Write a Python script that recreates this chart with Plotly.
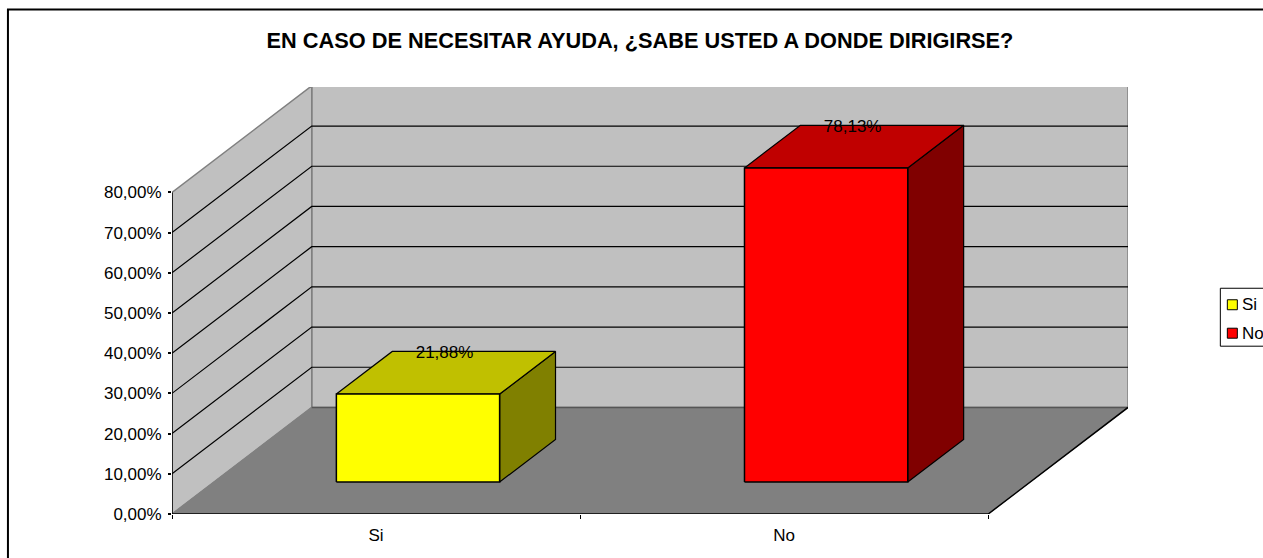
import plotly.graph_objects as go

title_text = "EN CASO DE NECESITAR AYUDA, ¿SABE USTED A DONDE DIRIGIRSE?"
categories = ["Si", "No"]
values = [21.88, 78.13]
value_labels = ["21,88%", "78,13%"]
front_colors = ["#FFFF00", "#FF0000"]
top_colors = ["#C0C000", "#C00000"]
side_colors = ["#808000", "#800000"]
y_ticks = [0, 10, 20, 30, 40, 50, 60, 70, 80]
y_tick_labels = ["0,00%", "10,00%", "20,00%", "30,00%", "40,00%", "50,00%", "60,00%", "70,00%", "80,00%"]

# oblique projection of the depth axis, in axis units
DX, DY = 0.3424, 26.5
FRONT, BACK = 0.30, 0.70
BAR_HALF = 0.2
WALL, FLOOR = "#C0C0C0", "#808080"

W, H = 1263, 558
L, R, T, B = 172, 1127.7, 86.5, 514
FONT = "Liberation Sans, Arial, sans-serif"

def px(v):
    return (v - L) / (R - L)

def py(v):
    return (B - v) / (B - T)

fig = go.Figure()

def poly(xs, ys, fill, line, lw=1):
    fig.add_trace(go.Scatter(x=xs + xs[:1], y=ys + ys[:1], mode="lines", fill="toself", fillcolor=fill,
                             line=dict(color=line, width=lw), hoverinfo="skip", showlegend=False))

def seg(xs, ys, color, lw=1):
    fig.add_trace(go.Scatter(x=xs, y=ys, mode="lines", line=dict(color=color, width=lw),
                             hoverinfo="skip", showlegend=False))

n = len(categories)
top = y_ticks[-1]
poly([DX, n + DX, n + DX, DX], [DY, DY, top + DY, top + DY], WALL, FLOOR, 1.5)
poly([0, DX, DX, 0], [0, DY, top + DY, top], WALL, FLOOR, 1.5)
poly([0, n, n + DX, DX], [0, 0, DY, DY], FLOOR, FLOOR, 1)
for t in y_ticks[1:-1]:
    seg([0, DX, n + DX], [t, t + DY, t + DY], "#000000", 1.2)
seg([DX, n + DX], [DY, DY], "#555555", 1.5)
seg([DX, n + DX], [top + DY, top + DY], "#666666", 1.5)
seg([0, 0], [0, top], "#000000", 1.5)
seg([0, n, n + DX], [0, 0, DY], "#000000", 1.5)

for i, v in enumerate(values):
    c = i + 0.5
    x0, x1 = c - BAR_HALF, c + BAR_HALF
    fx, fy = FRONT * DX, FRONT * DY
    bx, by = BACK * DX, BACK * DY
    poly([x1 + fx, x1 + bx, x1 + bx, x1 + fx], [fy, by, by + v, fy + v], side_colors[i], "#000000", 1.2)
    poly([x0 + fx, x1 + fx, x1 + bx, x0 + bx], [fy + v, fy + v, by + v, by + v], top_colors[i], "#000000", 1.2)
    poly([x0 + fx, x1 + fx, x1 + fx, x0 + fx], [fy, fy, fy + v, fy + v], front_colors[i], "#000000", 1.5)

LABEL_DEPTH = 0.68
fig.add_trace(go.Scatter(
    x=[i + 0.5 + 0.49 * DX for i in range(n)],
    y=[v + LABEL_DEPTH * DY for v in values],
    mode="text", text=value_labels, textposition="middle center",
    textfont=dict(family=FONT, size=17, color="#000000"), hoverinfo="skip", showlegend=False))

shapes = [dict(type="rect", xref="paper", yref="paper", x0=px(8), x1=px(1300), y0=py(9), y1=py(600),
               line=dict(color="#000000", width=2), fillcolor="rgba(0,0,0,0)", layer="below"),
          dict(type="rect", xref="paper", yref="paper", x0=px(1220), x1=px(1300), y0=py(288), y1=py(346),
               line=dict(color="#000000", width=1), fillcolor="#FFFFFF")]
annotations = []
for i, name in enumerate(categories):
    yc = 304.5 + i * 28.5
    shapes.append(dict(type="rect", xref="paper", yref="paper", x0=px(1227), x1=px(1237), y0=py(yc - 5), y1=py(yc + 5),
                       line=dict(color="#000000", width=1), fillcolor=front_colors[i]))
    annotations.append(dict(text=name, xref="paper", yref="paper", x=px(1240), y=py(yc), xanchor="left", yanchor="middle",
                            showarrow=False, font=dict(family=FONT, size=17, color="#000000")))

fig.update_layout(
    width=W, height=H, margin=dict(l=L, r=W - R, t=T, b=H - B, autoexpand=False, pad=0),
    paper_bgcolor="#FFFFFF", plot_bgcolor="#FFFFFF", showlegend=False,
    title=dict(text="<b>" + title_text + "</b>", x=640 / W, xanchor="center", xref="container",
               y=1 - 40 / H, yanchor="middle", yref="container", font=dict(family=FONT, size=21.75, color="#000000")),
    xaxis=dict(range=[0, n + DX], showgrid=False, zeroline=False, showline=False, tickmode="array",
               tickvals=[i + 0.5 for i in range(n)], ticktext=categories, ticks="", ticklabelstandoff=9,
               tickfont=dict(family=FONT, size=17, color="#000000"),
               minor=dict(tickmode="array", tickvals=list(range(n + 1)), ticks="outside", ticklen=4, tickcolor="#000000", tickwidth=1)),
    yaxis=dict(range=[0, (B - T) / ((B - 192) / top)], showgrid=False, zeroline=False, showline=False, tickmode="array",
               tickvals=y_ticks, ticktext=y_tick_labels, ticks="outside", ticklen=3, tickcolor="#000000", tickwidth=1.5,
               ticklabelstandoff=3, tickfont=dict(family=FONT, size=17, color="#000000")),
    shapes=shapes, annotations=annotations,
)
fig.write_html("out.html", config=dict(displayModeBar=False),
               post_script="document.body.style.margin='0';document.body.style.overflow='hidden';")
